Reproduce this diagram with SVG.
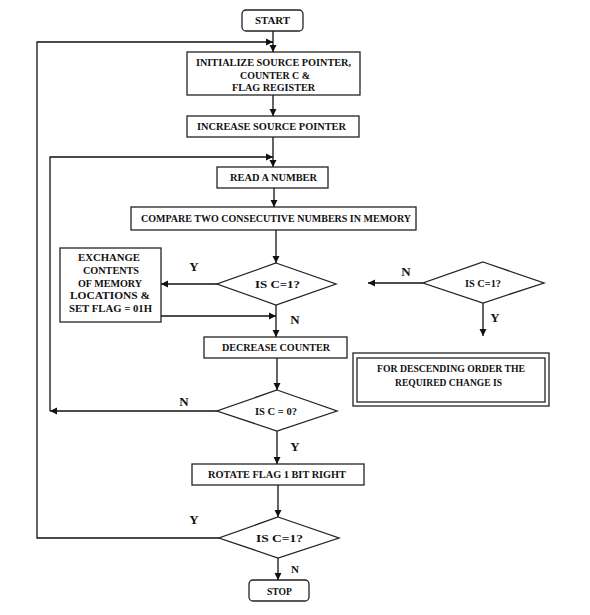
<svg xmlns="http://www.w3.org/2000/svg" width="590" height="615" viewBox="0 0 590 615">
<style>
.b{fill:#fff;stroke:#222;stroke-width:1.3}
.t{font-family:"Liberation Serif","Times New Roman",serif;font-weight:bold;font-size:10px;fill:#111;text-anchor:middle}
.l{font-family:"Liberation Serif","Times New Roman",serif;font-weight:bold;font-size:13px;fill:#111;text-anchor:middle}
.c{fill:none;stroke:#111;stroke-width:1.3}
</style>
<defs>
<marker id="a" markerWidth="8" markerHeight="8" refX="7" refY="4" orient="auto" markerUnits="userSpaceOnUse">
<path d="M0,0.5 L7,4 L0,7.5 Z" fill="#111"/>
</marker>
</defs>
<rect width="590" height="615" fill="#fff"/>
<g id="connectors">
<line class="c" x1="273" y1="31" x2="273" y2="52" marker-end="url(#a)"/>
<polyline class="c" points="219,538 37,538 37,42 273,42" marker-end="url(#a)"/>
<line class="c" x1="273" y1="95" x2="273" y2="116" marker-end="url(#a)"/>
<line class="c" x1="273" y1="137" x2="273" y2="167" marker-end="url(#a)"/>
<line class="c" x1="217" y1="411" x2="50" y2="411" marker-end="url(#a)"/>
<polyline class="c" points="50,411 50,157 273,157" marker-end="url(#a)"/>
<line class="c" x1="274" y1="188" x2="274" y2="207" marker-end="url(#a)"/>
<line class="c" x1="276" y1="230" x2="276" y2="263" marker-end="url(#a)"/>
<line class="c" x1="217" y1="284" x2="161" y2="284" marker-end="url(#a)"/>
<line class="c" x1="161" y1="316" x2="276" y2="316" marker-end="url(#a)"/>
<line class="c" x1="276" y1="305" x2="276" y2="337" marker-end="url(#a)"/>
<line class="c" x1="277" y1="358" x2="277" y2="390" marker-end="url(#a)"/>
<line class="c" x1="277" y1="431" x2="277" y2="464" marker-end="url(#a)"/>
<line class="c" x1="278" y1="485" x2="278" y2="517" marker-end="url(#a)"/>
<line class="c" x1="278" y1="558" x2="278" y2="580" marker-end="url(#a)"/>
<line class="c" x1="423" y1="283" x2="368" y2="283" marker-end="url(#a)"/>
<line class="c" x1="483" y1="303" x2="483" y2="336" marker-end="url(#a)"/>
<text class="l" x="194" y="271">Y</text>
<text class="l" x="295" y="324">N</text>
<text class="l" x="184" y="406">N</text>
<text class="l" x="295" y="451">Y</text>
<text class="l" x="194" y="524">Y</text>
<text class="l" x="295" y="573" style="font-size:11px">N</text>
<text class="l" x="406" y="276">N</text>
<text class="l" x="495" y="322">Y</text>
</g>
<g id="start">
<rect class="b" x="242" y="10" width="61" height="21" rx="4"/>
<text class="t" x="272.5" y="24" textLength="35" lengthAdjust="spacingAndGlyphs">START</text>
</g>
<g id="init">
<rect class="b" x="187" y="52" width="173" height="43"/>
<text class="t" x="273.5" y="65.5" textLength="155" lengthAdjust="spacingAndGlyphs">INITIALIZE SOURCE POINTER,</text>
<text class="t" x="275" y="78.5" textLength="70" lengthAdjust="spacingAndGlyphs">COUNTER C &amp;</text>
<text class="t" x="273.5" y="90.5" textLength="83" lengthAdjust="spacingAndGlyphs">FLAG REGISTER</text>
</g>
<g id="increase">
<rect class="b" x="187" y="116" width="172" height="21"/>
<text class="t" x="271.5" y="129.5" textLength="149" lengthAdjust="spacingAndGlyphs">INCREASE SOURCE POINTER</text>
</g>
<g id="read">
<rect class="b" x="217" y="167" width="111" height="21"/>
<text class="t" x="273.5" y="181" textLength="87" lengthAdjust="spacingAndGlyphs">READ A NUMBER</text>
</g>
<g id="compare">
<rect class="b" x="131" y="207" width="285" height="23"/>
<text class="t" x="276" y="222" textLength="270" lengthAdjust="spacingAndGlyphs">COMPARE TWO CONSECUTIVE NUMBERS IN MEMORY</text>
</g>
<g id="exchange">
<rect class="b" x="60" y="248" width="101" height="74"/>
<text class="t" x="109" y="260.5" textLength="62" lengthAdjust="spacingAndGlyphs">EXCHANGE</text>
<text class="t" x="111" y="273.5" textLength="56" lengthAdjust="spacingAndGlyphs">CONTENTS</text>
<text class="t" x="110" y="286.5" textLength="64" lengthAdjust="spacingAndGlyphs">OF MEMORY</text>
<text class="t" x="110" y="298.5" textLength="80" lengthAdjust="spacingAndGlyphs">LOCATIONS &amp;</text>
<text class="t" x="110.5" y="311.5" textLength="83" lengthAdjust="spacingAndGlyphs">SET FLAG = 01H</text>
</g>
<g id="dec1">
<polygon class="b" points="276,263 336,284 276,305 217,284"/>
<text class="t" x="277.5" y="287.5" textLength="45" lengthAdjust="spacingAndGlyphs">IS  C=1?</text>
</g>
<g id="decrease">
<rect class="b" x="204" y="337" width="143" height="21"/>
<text class="t" x="276" y="350.5" textLength="108" lengthAdjust="spacingAndGlyphs">DECREASE COUNTER</text>
</g>
<g id="dec2">
<polygon class="b" points="277,390 337,411 277,431 217,411"/>
<text class="t" x="276" y="414.5" textLength="42" lengthAdjust="spacingAndGlyphs">IS C = 0?</text>
</g>
<g id="rotate">
<rect class="b" x="192" y="464" width="172" height="21"/>
<text class="t" x="277" y="477.5" textLength="138" lengthAdjust="spacingAndGlyphs">ROTATE FLAG 1 BIT RIGHT</text>
</g>
<g id="dec3">
<polygon class="b" points="278,517 339,538 278,558 219,538"/>
<text class="t" x="279.5" y="541.5" textLength="47" lengthAdjust="spacingAndGlyphs">IS C=1?</text>
</g>
<g id="stop">
<rect class="b" x="249" y="580" width="60" height="21" rx="4"/>
<text class="t" x="279.5" y="594.5" textLength="25" lengthAdjust="spacingAndGlyphs">STOP</text>
</g>
<g id="dec4">
<polygon class="b" points="483,262 544,283 483,303 423,283"/>
<text class="t" x="483" y="286.5" textLength="36" lengthAdjust="spacingAndGlyphs">IS C=1?</text>
</g>
<g id="note">
<rect class="b" x="353" y="353" width="196" height="53"/>
<rect class="b" x="357" y="358" width="188" height="44"/>
<text class="t" x="451" y="372" textLength="148" lengthAdjust="spacingAndGlyphs">FOR DESCENDING ORDER THE</text>
<text class="t" x="448.5" y="386" textLength="107" lengthAdjust="spacingAndGlyphs">REQUIRED CHANGE IS</text>
</g>
</svg>
